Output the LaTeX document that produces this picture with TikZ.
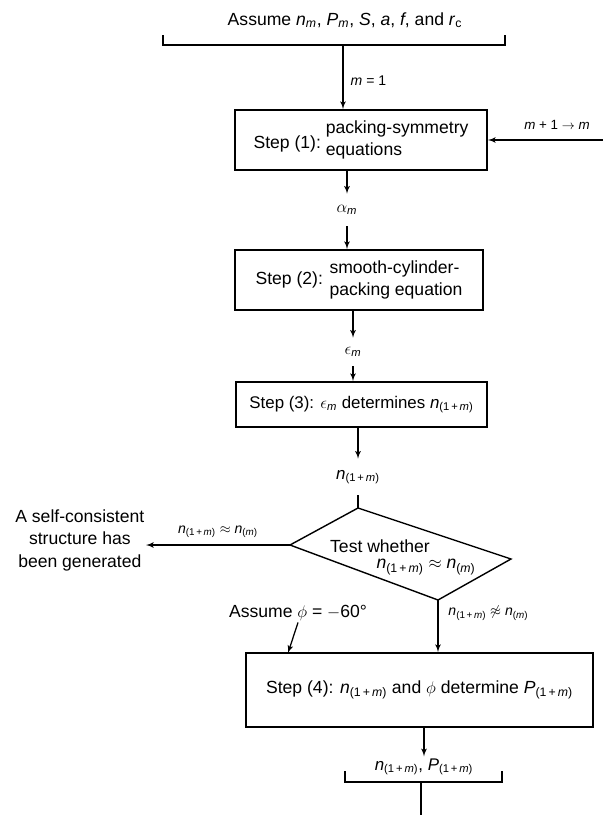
\documentclass[tikz,border=0pt]{standalone}
\usepackage{fontspec}
\setmainfont{Liberation Sans}
\usepackage{amsmath}
\usetikzlibrary{positioning,arrows,calc,shapes}
\newcommand{\iv}[1]{\textit{#1}}
\newcommand{\nsub}{\iv{n}\textsubscript{(1\,+\,\iv{m})}}
\tikzset{
    x=0.025cm,
    y=-0.025cm,
    stepbox/.style = {
        draw,
        shape=rectangle,
        line width=1.3pt,
        inner sep=2pt,
        font=\fontsize{12.5}{15.5}\selectfont
    },
    value/.style = {
        inner sep=0pt,
        font=\fontsize{12}{14}\selectfont
    },
    note/.style = {
        inner sep=1pt,
        font=\fontsize{10}{12}\selectfont
    },
    plain/.style = {
        inner sep=1pt,
        font=\fontsize{12.5}{16}\selectfont
    },
    flow/.style = {
        draw,
        line width=0.9pt
    },
    >=latex',
}
\begin{document}
\begin{tikzpicture}

            \useasboundingbox (0,0) rectangle (603,815);

            \node[plain] (assume_all) at (345,20) {Assume \iv{n}\textsubscript{\iv{m}}, \iv{P}\textsubscript{\iv{m}}, \iv{S}, \iv{a}, \iv{f}, and \iv{r}\textsubscript{c}};
            \coordinate (top_l) at (163,35);
            \coordinate (top_r) at (505,35);
            \coordinate (top_bar) at (343,45);

            \node[stepbox, minimum width=6.3cm, minimum height=1.5cm] (step1) at (361,140)
                {\raisebox{-3pt}{Step (1):} \begin{tabular}[c]{@{}l@{}}packing-symmetry\\equations\end{tabular}};
            \node[value, minimum height=0.8cm] (alpha_m) at (347,210) {$\alpha_{\iv{m}}$};
            \node[stepbox, minimum width=6.2cm, minimum height=1.5cm] (step2) at (359,280)
                {Step (2): \begin{tabular}[c]{@{}l@{}}smooth-cylinder-\\packing equation\end{tabular}};
            \node[value, minimum height=0.7cm] (eps_m) at (353,352) {$\epsilon_{\iv{m}}$};
            \node[stepbox, minimum width=6.275cm, minimum height=1.125cm, font=\fontsize{12}{14}\selectfont] (step3) at (361.5,404.5)
                {Step (3): $\epsilon_{\iv{m}}$ determines \nsub};
            \node[value, minimum height=0.9cm] (n_next) at (358,477) {\nsub};

            \coordinate (d_top) at (358,508);
            \coordinate (d_left) at (290,545);
            \coordinate (d_right) at (511,559);
            \coordinate (d_bottom) at (438,600);
            \node[plain] (test) at (380,546) {Test whether};
            \node[value, font=\fontsize{12.5}{14}\selectfont] (test_rel) at (426,567) {\nsub\ $\approx$ \iv{n}\textsubscript{(\iv{m})}};

            \node[plain, align=center, anchor=east] (done) at (146,540)
                {A self-consistent\\structure has\\been generated};

            \node[plain] (assume_phi) at (298,613) {Assume $\phi$ = $-$60°};
            \coordinate (phi_in) at (288,653);
            \node[stepbox, minimum width=8.675cm, minimum height=1.85cm] (step4) at (419.5,690)
                {Step (4): \nsub\ and $\phi$ determine \iv{P}\textsubscript{(1\,+\,\iv{m})}};
            \node[value, inner sep=1.5pt] (result) at (424,767) {\nsub, \iv{P}\textsubscript{(1\,+\,\iv{m})}};
            \coordinate (bot_l) at (345,771);
            \coordinate (bot_r) at (502,771);
            \coordinate (bot_mid) at (421,782);
            \coordinate (bot_end) at (421,815);
            \coordinate (loop_in) at (603,140);

            \path[flow] (top_l) -- ++(0,10) -| (top_r);
            \path[flow, ->] (top_bar) -- (top_bar |- step1.north) node [note, pos=0.55, right=4pt] {\iv{m} = 1};
            \path[flow, ->] (loop_in) -- (step1.east) node [note, pos=0.4, above=6pt, font=\fontsize{9.5}{11}\selectfont] {\iv{m} + 1 $\rightarrow$ \iv{m}};

            \path[flow, ->] (step1.south -| alpha_m) -- (alpha_m.north);
            \path[flow, ->] (alpha_m.south) -- (step2.north -| alpha_m);
            \path[flow, ->] (step2.south -| eps_m) -- (eps_m.north);
            \path[flow, ->] (eps_m.south) -- (step3.north -| eps_m);
            \path[flow, ->] (step3.south -| n_next) -- (n_next.north);
            \path[flow] (n_next.south) -- (d_top);

            \path[draw, line width=1pt] (d_top) -- (d_right) -- (d_bottom) -- (d_left) -- cycle;

            \path[flow, ->] (d_left) -- (d_left -| done.east) node [note, midway, above=4pt] {\nsub\ $\approx$ \iv{n}\textsubscript{(\iv{m})}};
            \path[flow, ->] (d_bottom) -- (d_bottom |- step4.north) node [note, pos=0.25, right=6pt] {\nsub\ $\not\approx$ \iv{n}\textsubscript{(\iv{m})}};
            \path[flow, ->] (assume_phi.south) -- (phi_in);

            \path[flow, ->] (step4.south -| result) -- (result.north);
            \path[flow] (bot_l) -- ++(0,11) -| (bot_r);
            \path[flow] (bot_mid) -- (bot_end);

        \end{tikzpicture}
\end{document}
